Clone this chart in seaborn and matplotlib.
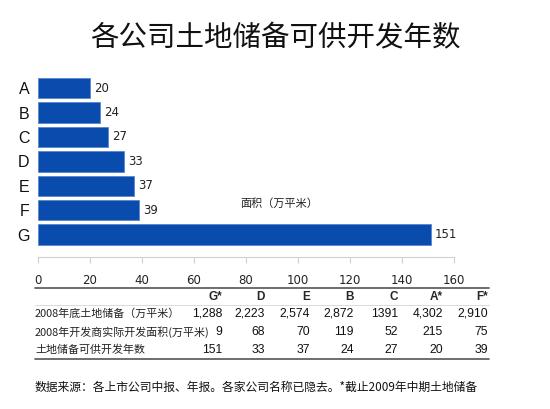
import pandas as pd
import seaborn as sns
import matplotlib.pyplot as plt

# Bar chart data
companies = ["A", "B", "C", "D", "E", "F", "G"]
years = [20, 24, 27, 33, 37, 39, 151]

# Table data
table_cols = ["G*", "D", "E", "B", "C", "A*", "F*"]
row_labels = ["2008年底土地储备（万平米）", "2008年开发商实际开发面积(万平米)", "土地储备可供开发年数"]
land_bank = ["1,288", "2,223", "2,574", "2,872", "1391", "4,302", "2,910"]
developed = ["9", "68", "70", "119", "52", "215", "75"]
supply_years = ["151", "33", "37", "24", "27", "20", "39"]
x_ticks = [0, 20, 40, 60, 80, 100, 120, 140, 160]

sns.set_style("white")
plt.rcParams["font.family"] = ["Noto Sans CJK SC", "DejaVu Sans"]

df = pd.DataFrame({"company": companies, "years": years})

W, H = 550, 409
fig = plt.figure(figsize=(5.5, 4.09), dpi=100)
ax = fig.add_axes([38 / W, 1 - 257 / H, (454 - 38) / W, (257 - 76) / H])

sns.barplot(data=df, x="years", y="company", orient="h", color="#0a4cad",
            saturation=1, width=0.83, edgecolor="#5b86cf", linewidth=0.6, ax=ax)
ax.set_xlim(0, 160)
ax.set_ylim(6.92, -0.5)
ax.set_xticks(x_ticks)
ax.set_xlabel("")
ax.set_ylabel("")
for s in ["top", "right", "left"]:
    ax.spines[s].set_visible(False)
ax.spines["bottom"].set_color("#d0d0d0")
ax.tick_params(axis="x", length=4, color="#d0d0d0", labelsize=8.5, pad=8,
               direction="out", bottom=True, labelcolor="#222222")
ax.tick_params(axis="y", length=0, labelsize=11.5, pad=6, labelcolor="#111111")
for lbl in ax.get_yticklabels():
    lbl.set_family(["Liberation Sans"])
for lbl in ax.get_xticklabels():
    lbl.set_family(["DejaVu Sans"])

for i, v in enumerate(years):
    ax.text(v + 1.5, i, str(v), va="center", ha="left", fontsize=8.5,
            family=["DejaVu Sans"], color="#222222")

ax.text(78, 4.85, "面积（万平米）", fontsize=8, color="#222222")

fig.text(0.5, 1 - 38 / H, "各公司土地储备可供开发年数", ha="center", va="center",
         fontsize=20.5, fontweight="medium", color="#111111")

# Table drawn as text
col_right = [222, 265, 310, 354, 398, 443, 488]
left, right = 35, 489
fig.add_artist(plt.Line2D([left / W, right / W], [1 - 288 / H] * 2, color="#555555", lw=1.2))
fig.add_artist(plt.Line2D([left / W, right / W], [1 - 359 / H] * 2, color="#555555", lw=1.2))
fig.add_artist(plt.Line2D([left / W, right / W], [1 - 305 / H] * 2, color="#cccccc", lw=0.5))

for x, c in zip(col_right, table_cols):
    fig.text(x / W, 1 - 297 / H, c, ha="right", va="center", fontsize=8.5,
             fontweight="bold", family=["Liberation Sans"])

rows = [land_bank, developed, supply_years]
row_y = [314, 332, 350]
for y, lab, vals in zip(row_y, row_labels, rows):
    fig.text(left / W, 1 - y / H, lab, ha="left", va="center", fontsize=7.9,
             fontweight="medium", color="#222222")
    for x, v in zip(col_right, vals):
        fig.text(x / W, 1 - y / H, v, ha="right", va="center", fontsize=8.7,
                 family=["Liberation Sans"], color="#111111")

fig.text(35 / W, 1 - 387 / H, "数据来源：各上市公司中报、年报。各家公司名称已隐去。*截止2009年中期土地储备",
         ha="left", va="center", fontsize=8.5, fontweight="medium", color="#111111")

fig.savefig("out.png", dpi=100, facecolor="white")
plt.close(fig)
